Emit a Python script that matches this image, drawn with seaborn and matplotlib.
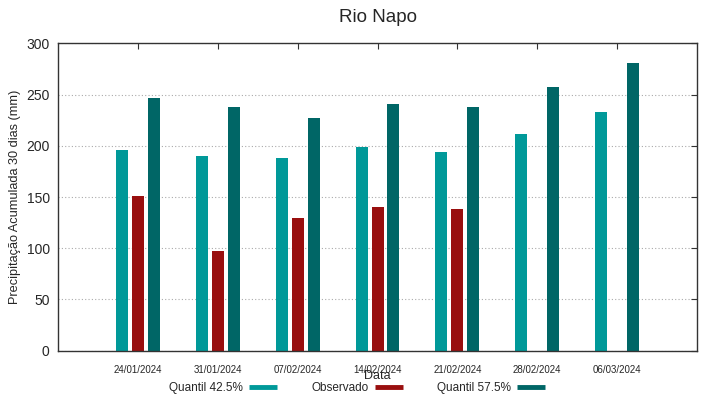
import pandas as pd
import numpy as np
import seaborn as sns
import matplotlib.pyplot as plt
from matplotlib.lines import Line2D

# Data
datas = ['24/01/2024', '31/01/2024', '07/02/2024', '14/02/2024',
         '21/02/2024', '28/02/2024', '06/03/2024']
quantil_425 = [196, 190, 188, 199, 194, 211, 233]
observado = [151, 97, 130, 140, 138, np.nan, np.nan]
quantil_575 = [247, 238, 227, 241, 238, 257, 281]

series = ['Quantil 42.5%', 'Observado', 'Quantil 57.5%']
cores = ['#009999', '#990f0f', '#006666']

df = pd.DataFrame({
    'Data': datas * 3,
    'valor': quantil_425 + observado + quantil_575,
    'serie': [series[0]] * 7 + [series[1]] * 7 + [series[2]] * 7,
})

sns.set_style("white")
plt.rcParams['font.family'] = ['Liberation Sans', 'DejaVu Sans']

fig = plt.figure(figsize=(7.19, 3.99), dpi=100)
ax = fig.add_axes([0.0807, 0.121, 0.8887, 0.7705])

sns.barplot(data=df, x='Data', y='valor', hue='serie', hue_order=series,
            order=datas, palette=cores, width=0.6, gap=0.25,
            edgecolor='none', saturation=1, legend=False, ax=ax)

ax.set_xlim(-1, 7)
ax.set_ylim(0, 300)
ax.set_yticks(range(0, 301, 50))
ax.yaxis.grid(True, linestyle=(0, (1, 2)), color='#aaaaaa', linewidth=0.8)
ax.set_axisbelow(True)

for s in ax.spines.values():
    s.set_color('#333333')
    s.set_linewidth(1.0)

ax.tick_params(axis='both', direction='in', top=True, right=True,
               length=4, width=0.8, color='#333333')
ax.tick_params(axis='y', labelsize=10, pad=6)
ax.tick_params(axis='x', labelsize=7, pad=10)

ax.set_title('Rio Napo', fontsize=13.5, pad=15)
ax.set_ylabel('Precipitação Acumulada 30 dias (mm)', fontsize=9.2, labelpad=4)
ax.set_xlabel('Data', fontsize=9, labelpad=-3)

handles = [Line2D([0], [0], color=c, lw=3.5, solid_capstyle='butt') for c in cores]
fig.legend(handles, series, loc='center', bbox_to_anchor=(0.497, 0.027),
           ncol=3, frameon=False, markerfirst=False, fontsize=8.5,
           handlelength=2.4, columnspacing=2.9, handletextpad=0.5)

plt.savefig('out.png', dpi=100)
